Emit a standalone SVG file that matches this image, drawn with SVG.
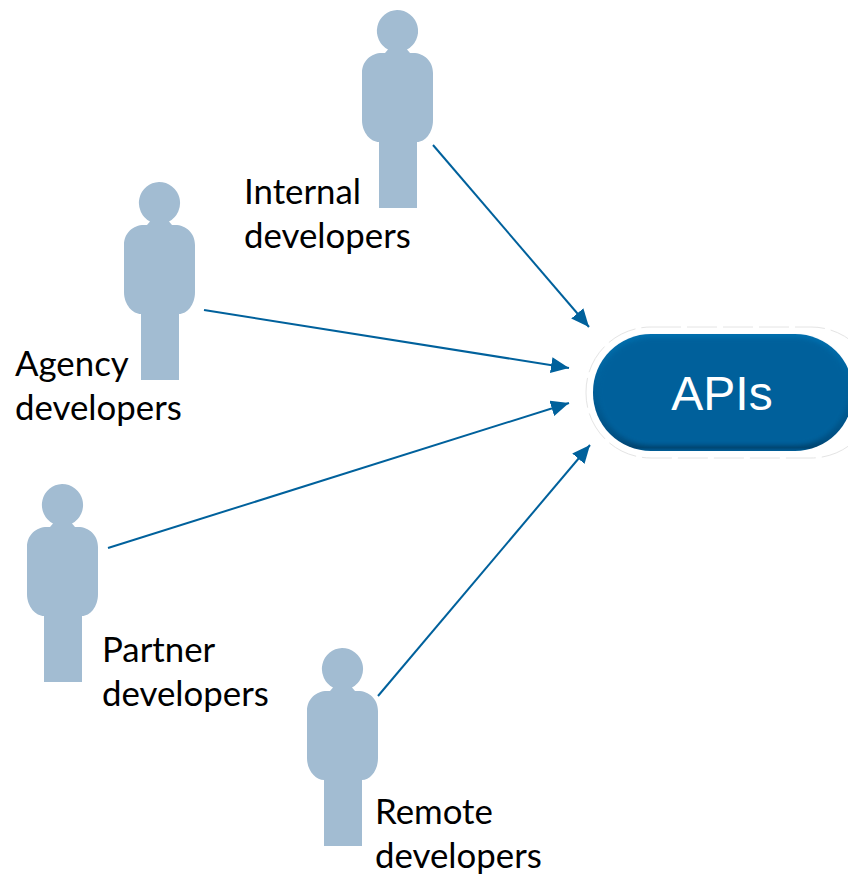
<svg xmlns="http://www.w3.org/2000/svg" width="848" height="874" viewBox="0 0 848 874">
<style>
.p{fill:#a2bcd2}
.t{font-family:"Lato","Liberation Sans",sans-serif;font-size:34.8px;fill:#000}
.c{stroke:#00619c;stroke-width:2;fill:none;marker-end:url(#a)}
</style>
<defs>
<marker id="a" markerUnits="userSpaceOnUse" markerWidth="20" markerHeight="18" refX="18" refY="8" orient="auto"><path d="M0 0L18 8L0 16z" fill="#00619c"/></marker>
<linearGradient id="g" x1="0" y1="0" x2="0" y2="1"><stop offset="0" stop-color="#006fae"/><stop offset=".5" stop-color="#005e97"/><stop offset=".9" stop-color="#004f82"/><stop offset=".97" stop-color="#00446f"/><stop offset="1" stop-color="#005f99"/></linearGradient>
<filter id="s" x="-10%" y="-20%" width="120%" height="140%"><feGaussianBlur stdDeviation="2.200"/></filter>
<path id="b" class="p" d="M397 10a21 21 0 0 1 10 39.500l3 3.500h3c11 0 20 8 20 20v47c0 13-8 22-16 22v66h-38v-66c-8 0-17-9-17-22v-47c0-12 9-20 20-20h3l3-3.500a21 21 0 0 1 9-39.500z"/>
</defs>
<rect width="848" height="874" fill="#fff"/>
<g id="connectors">
<path class="c" d="M433 145L589 327"/>
<path class="c" d="M204 310L569 368"/>
<path class="c" d="M108 548L569 403"/>
<path class="c" d="M378 696L590 445"/>
</g>
<g id="internal"><use href="#b"/><text class="t" x="244" y="204">Internal</text><text class="t" x="244" y="248">developers</text></g>
<g id="agency"><use href="#b" x="-238" y="172"/><text class="t" x="15" y="376">Agency</text><text class="t" x="15" y="420">developers</text></g>
<g id="partner"><use href="#b" x="-335" y="474"/><text class="t" x="102" y="662">Partner</text><text class="t" x="102" y="706">developers</text></g>
<g id="remote"><use href="#b" x="-55" y="638"/><text class="t" x="375" y="824">Remote</text><text class="t" x="375" y="868">developers</text></g>
<g id="apis">
<rect x="586" y="327" width="290" height="131" rx="65" fill="#fff" stroke="#e4e4e4" stroke-width="1" stroke-dasharray="30 6"/>
<rect x="593" y="334" width="260" height="117" rx="58" fill="url(#g)"/>
<rect x="598" y="338" width="250" height="107" rx="53" fill="#00609b" filter="url(#s)"/>
<text x="722" y="410" text-anchor="middle" font-family="Liberation Sans,Arial,sans-serif" font-size="48" fill="#fff">APIs</text>
</g>
</svg>
